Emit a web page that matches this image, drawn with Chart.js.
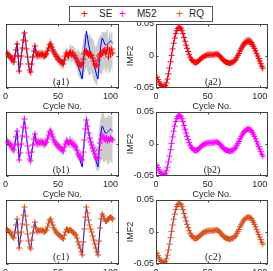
<!DOCTYPE html>
<html lang="en">
<head>
<meta charset="utf-8">
<title>IMF prediction</title>
<script src="https://cdn.jsdelivr.net/npm/chart.js@4.4.1/dist/chart.umd.min.js"></script>
<style>
  html, body { margin: 0; padding: 0; background: #fff; }
  body { position: relative; width: 273px; height: 271px; overflow: hidden; font-family: "Liberation Sans", Arial, sans-serif; color: #262626; }
  .painel { position: absolute; }
  .rotulo { position: absolute; font-family: "Liberation Serif", "Times New Roman", serif; font-size: 10px; line-height: 10px; transform: translateX(-50%); white-space: nowrap; z-index: 4; }
  #legenda { position: absolute; left: 69px; top: 6px; width: 142px; height: 14px; border: 1px solid #555; background: #fff; font-size: 10px; z-index: 5; }
  #legenda span { position: absolute; top: 0; line-height: 14px; }
  #legenda .mk { font-size: 12px; }
</style>
</head>
<body>
<div id="legenda">
  <span class="mk" style="left:11px;color:#ff0000">+</span><span style="left:29px">SE</span>
  <span class="mk" style="left:49px;color:#ff00ff">+</span><span style="left:67px">M52</span>
  <span class="mk" style="left:106px;color:#d95319">+</span><span style="left:119px">RQ</span>
</div>

<canvas id="gA1" class="painel" width="124" height="96" style="left:0;top:16px"></canvas>
<canvas id="gA2" class="painel" width="149" height="96" style="left:124px;top:16px"></canvas>
<canvas id="gB1" class="painel" width="124" height="96" style="left:0;top:104px"></canvas>
<canvas id="gB2" class="painel" width="149" height="96" style="left:124px;top:104px"></canvas>
<canvas id="gC1" class="painel" width="124" height="96" style="left:0;top:192px"></canvas>
<canvas id="gC2" class="painel" width="149" height="96" style="left:124px;top:192px"></canvas>

<div class="rotulo" style="left:61px;top:77px">(a1)</div>
<div class="rotulo" style="left:213px;top:77px">(a2)</div>
<div class="rotulo" style="left:61px;top:165px">(b1)</div>
<div class="rotulo" style="left:212px;top:165px">(b2)</div>
<div class="rotulo" style="left:61px;top:252px">(c1)</div>
<div class="rotulo" style="left:213px;top:252px">(c2)</div>

<script>
// eixos
const cycleTicks = [0, 50, 100];
const imf1Ticks = [-0.032, 0, 0.032];
const imf2Ticks = [-0.05, 0, 0.05];

// IMF1 (coluna esquerda), ciclos 1..102
const imf1Real = [
  0.003, 0.002, 0.001, 0.000, -0.001, -0.003, -0.005, -0.006, 0.000, 0.007,
  0.013, -0.001, -0.016, -0.009, 0.000, 0.008, 0.017, 0.025, 0.016, 0.007,
  -0.002, -0.009, -0.015, -0.017, -0.008, -0.001, 0.005, 0.010, 0.004, 0.000,
  0.002, 0.001, 0.002, 0.001, 0.002, 0.001, 0.000, 0.001, 0.002, 0.005,
  0.009, 0.012, 0.013, 0.010, 0.007, 0.004, 0.002, 0.000, -0.001, -0.002,
  -0.003, -0.004, -0.005, -0.006, -0.007, -0.003, 0.000, 0.003, 0.002, 0.001,
  0.002, 0.002, 0.001, 0.000, -0.001, -0.002, -0.003, -0.006, -0.010, -0.013,
  -0.016, -0.020, -0.023, -0.010, 0.003, 0.015, 0.025, 0.019, 0.012, 0.007,
  0.003, 0.000, -0.004, -0.008, -0.012, -0.016, -0.020, -0.023, -0.009, 0.004,
  0.013, 0.018, 0.016, 0.013, 0.011, 0.011, 0.012, 0.013, 0.014, 0.015,
  0.014, 0.013
];
const imf1SE = [
  0.003, 0.002, 0.001, 0.000, -0.002, -0.003, -0.004, -0.006, 0.000, 0.006,
  0.012, 0.000, -0.015, -0.008, 0.000, 0.008, 0.016, 0.023, 0.015, 0.007,
  -0.001, -0.008, -0.014, -0.016, -0.008, -0.001, 0.005, 0.010, 0.004, 0.000,
  0.002, 0.001, 0.002, 0.001, 0.002, 0.001, 0.000, 0.001, 0.002, 0.005,
  0.008, 0.011, 0.012, 0.009, 0.006, 0.004, 0.002, 0.000, -0.001, -0.003,
  -0.004, -0.005, -0.006, -0.007, -0.008, -0.004, 0.000, 0.003, 0.001, 0.000,
  0.003, 0.004, 0.001, 0.003, 0.001, 0.000, -0.002, -0.004, -0.006, -0.008,
  -0.010, -0.009, -0.007, -0.003, 0.002, 0.004, 0.005, 0.003, 0.001, 0.002,
  0.000, 0.001, -0.002, -0.005, -0.008, -0.010, -0.009, -0.004, 0.000, 0.002,
  0.001, 0.003, 0.005, 0.006, 0.003, 0.004, 0.008, -0.001, 0.006, 0.002,
  0.007, 0.003
];
const imf1SEMeia = [
  0.005, 0.005, 0.005, 0.005, 0.005, 0.005, 0.005, 0.005, 0.005, 0.005,
  0.005, 0.005, 0.005, 0.005, 0.005, 0.005, 0.005, 0.005, 0.005, 0.005,
  0.005, 0.005, 0.005, 0.005, 0.005, 0.005, 0.005, 0.005, 0.005, 0.005,
  0.005, 0.005, 0.005, 0.005, 0.005, 0.005, 0.005, 0.005, 0.005, 0.005,
  0.006, 0.006, 0.006, 0.006, 0.006, 0.006, 0.006, 0.006, 0.006, 0.006,
  0.006, 0.006, 0.006, 0.006, 0.006, 0.006, 0.006, 0.006, 0.006, 0.006,
  0.008, 0.008, 0.008, 0.008, 0.008, 0.008, 0.008, 0.008, 0.013, 0.013,
  0.013, 0.013, 0.017, 0.019, 0.020, 0.018, 0.016, 0.018, 0.020, 0.021,
  0.019, 0.017, 0.019, 0.020, 0.018, 0.019, 0.021, 0.020, 0.018, 0.019,
  0.020, 0.021, 0.019, 0.018, 0.020, 0.021, 0.019, 0.018, 0.020, 0.019,
  0.018, 0.019
];
const imf1M52 = [
  0.003, 0.002, 0.001, 0.000, -0.001, -0.003, -0.005, -0.006, 0.000, 0.007,
  0.013, -0.001, -0.016, -0.009, 0.000, 0.008, 0.017, 0.025, 0.016, 0.007,
  -0.002, -0.009, -0.015, -0.017, -0.008, -0.001, 0.005, 0.010, 0.004, 0.000,
  0.002, 0.001, 0.002, 0.001, 0.002, 0.001, 0.000, 0.001, 0.002, 0.005,
  0.009, 0.012, 0.013, 0.010, 0.007, 0.004, 0.002, 0.000, -0.001, -0.002,
  -0.003, -0.004, -0.005, -0.006, -0.007, -0.003, 0.000, 0.003, 0.002, 0.001,
  0.002, 0.002, 0.001, 0.000, -0.001, -0.002, -0.003, -0.006, -0.010, -0.012,
  -0.013, -0.015, -0.016, -0.008, 0.004, 0.015, 0.024, 0.018, 0.011, 0.006,
  0.002, -0.001, -0.004, -0.007, -0.010, -0.013, -0.015, -0.014, -0.006, 0.001,
  0.005, 0.009, 0.007, 0.005, 0.004, 0.006, 0.003, 0.005, 0.004, 0.006,
  0.005, 0.004
];
const imf1M52Meia = [
  0.005, 0.005, 0.005, 0.005, 0.005, 0.005, 0.005, 0.005, 0.005, 0.005,
  0.005, 0.005, 0.005, 0.005, 0.005, 0.005, 0.005, 0.005, 0.005, 0.005,
  0.005, 0.005, 0.005, 0.005, 0.005, 0.005, 0.005, 0.005, 0.005, 0.005,
  0.005, 0.005, 0.005, 0.005, 0.005, 0.005, 0.005, 0.005, 0.005, 0.005,
  0.005, 0.005, 0.005, 0.005, 0.005, 0.005, 0.005, 0.005, 0.005, 0.005,
  0.005, 0.005, 0.005, 0.005, 0.005, 0.005, 0.005, 0.005, 0.005, 0.005,
  0.006, 0.006, 0.006, 0.006, 0.006, 0.006, 0.006, 0.006, 0.006, 0.006,
  0.006, 0.006, 0.008, 0.008, 0.008, 0.008, 0.008, 0.008, 0.008, 0.008,
  0.008, 0.008, 0.008, 0.008, 0.008, 0.012, 0.012, 0.012, 0.022, 0.022,
  0.022, 0.024, 0.025, 0.023, 0.021, 0.022, 0.024, 0.025, 0.023, 0.022,
  0.024, 0.025
];
const imf1RQ = [
  0.003, 0.002, 0.001, 0.000, -0.001, -0.003, -0.005, -0.006, 0.000, 0.007,
  0.013, -0.001, -0.016, -0.009, 0.000, 0.008, 0.017, 0.025, 0.016, 0.007,
  -0.002, -0.009, -0.015, -0.017, -0.008, -0.001, 0.005, 0.010, 0.004, 0.000,
  0.002, 0.001, 0.002, 0.001, 0.002, 0.001, 0.000, 0.001, 0.002, 0.005,
  0.009, 0.012, 0.013, 0.010, 0.007, 0.004, 0.002, 0.000, -0.001, -0.002,
  -0.003, -0.004, -0.005, -0.006, -0.007, -0.003, 0.000, 0.003, 0.002, 0.001,
  0.002, 0.002, 0.001, 0.000, -0.001, -0.002, -0.003, -0.006, -0.010, -0.013,
  -0.016, -0.020, -0.023, -0.010, 0.003, 0.015, 0.025, 0.019, 0.012, 0.007,
  0.003, 0.000, -0.004, -0.008, -0.012, -0.016, -0.020, -0.023, -0.009, 0.004,
  0.013, 0.018, 0.016, 0.013, 0.011, 0.011, 0.012, 0.013, 0.014, 0.015,
  0.014, 0.013
];
const imf1RQMeia = [
  0.0015, 0.0015, 0.0015, 0.0015, 0.0015, 0.0015, 0.0015, 0.0015, 0.0015, 0.0015,
  0.0015, 0.0015, 0.0015, 0.0015, 0.0015, 0.0015, 0.0015, 0.0015, 0.0015, 0.0015,
  0.0015, 0.0015, 0.0015, 0.0015, 0.0015, 0.0015, 0.0015, 0.0015, 0.0015, 0.0015,
  0.0015, 0.0015, 0.0015, 0.0015, 0.0015, 0.0015, 0.0015, 0.0015, 0.0015, 0.0015,
  0.0015, 0.0015, 0.0015, 0.0015, 0.0015, 0.0015, 0.0015, 0.0015, 0.0015, 0.0015,
  0.0015, 0.0015, 0.0015, 0.0015, 0.0015, 0.0015, 0.0015, 0.0015, 0.0015, 0.0015,
  0.0015, 0.0015, 0.0015, 0.0015, 0.0015, 0.0015, 0.0015, 0.0015, 0.0015, 0.0015,
  0.0015, 0.0015, 0.0015, 0.0015, 0.0015, 0.0015, 0.0015, 0.0015, 0.0015, 0.0015,
  0.0015, 0.0015, 0.0015, 0.0015, 0.0015, 0.0015, 0.0015, 0.0015, 0.0015, 0.0015,
  0.0015, 0.0015, 0.0015, 0.0015, 0.0015, 0.0015, 0.0015, 0.0015, 0.0015, 0.0015,
  0.0015, 0.020
];

// IMF2 (coluna direita), ciclos 1..103
const imf2Real = [
  -0.033, -0.037, -0.041, -0.044, -0.046, -0.047, -0.048, -0.048, -0.046, -0.042,
  -0.036, -0.028, -0.019, -0.009, 0.001, 0.011, 0.020, 0.028, 0.035, 0.040,
  0.043, 0.045, 0.045, 0.043, 0.040, 0.035, 0.029, 0.023, 0.017, 0.012,
  0.007, 0.002, -0.002, -0.005, -0.007, -0.009, -0.010, -0.010, -0.010, -0.009,
  -0.008, -0.006, -0.005, -0.003, -0.002, -0.001, 0.000, 0.001, 0.001, 0.002,
  0.002, 0.002, 0.002, 0.002, 0.002, 0.002, 0.003, 0.003, 0.003, 0.002,
  0.001, -0.001, -0.003, -0.005, -0.007, -0.008, -0.009, -0.010, -0.010, -0.011,
  -0.011, -0.011, -0.010, -0.010, -0.009, -0.007, -0.005, -0.002, 0.001, 0.004,
  0.008, 0.011, 0.014, 0.017, 0.019, 0.021, 0.022, 0.023, 0.023, 0.023,
  0.022, 0.021, 0.018, 0.015, 0.012, 0.008, 0.004, 0.000, -0.004, -0.008,
  -0.012, -0.016, -0.019
];
const imf2Pred = [
  -0.033, -0.037, -0.041, -0.044, -0.046, -0.047, -0.048, -0.048, -0.046, -0.042,
  -0.036, -0.028, -0.019, -0.009, 0.001, 0.011, 0.020, 0.028, 0.035, 0.040,
  0.043, 0.045, 0.045, 0.043, 0.040, 0.035, 0.029, 0.023, 0.017, 0.012,
  0.007, 0.002, -0.002, -0.005, -0.007, -0.009, -0.010, -0.010, -0.010, -0.009,
  -0.008, -0.006, -0.005, -0.003, -0.002, -0.001, 0.000, 0.001, 0.001, 0.002,
  0.002, 0.002, 0.002, 0.002, 0.002, 0.002, 0.003, 0.003, 0.003, 0.002,
  0.001, -0.001, -0.003, -0.005, -0.007, -0.008, -0.009, -0.010, -0.010, -0.011,
  -0.011, -0.011, -0.010, -0.010, -0.009, -0.007, -0.005, -0.002, 0.001, 0.004,
  0.008, 0.011, 0.014, 0.017, 0.019, 0.021, 0.022, 0.023, 0.023, 0.023,
  0.022, 0.021, 0.018, 0.015, 0.012, 0.008, 0.004, 0.000, -0.004, -0.008,
  -0.012, -0.016, -0.019
];
const imf2SEMeia = [
  0.002, 0.002, 0.002, 0.002, 0.002, 0.002, 0.002, 0.002, 0.002, 0.002,
  0.002, 0.002, 0.002, 0.002, 0.002, 0.002, 0.002, 0.002, 0.002, 0.002,
  0.002, 0.002, 0.002, 0.002, 0.002, 0.002, 0.002, 0.002, 0.002, 0.002,
  0.002, 0.002, 0.002, 0.002, 0.002, 0.002, 0.002, 0.002, 0.002, 0.002,
  0.002, 0.002, 0.002, 0.002, 0.002, 0.002, 0.002, 0.002, 0.002, 0.002,
  0.002, 0.002, 0.002, 0.002, 0.002, 0.002, 0.002, 0.002, 0.002, 0.002,
  0.002, 0.002, 0.002, 0.002, 0.002, 0.002, 0.002, 0.002, 0.002, 0.002,
  0.003, 0.003, 0.003, 0.003, 0.003, 0.005, 0.005, 0.005, 0.005, 0.005,
  0.008, 0.008, 0.008, 0.008, 0.008, 0.008, 0.008, 0.008, 0.008, 0.008,
  0.008, 0.008, 0.008, 0.008, 0.008, 0.008, 0.008, 0.008, 0.008, 0.008,
  0.008, 0.008, 0.008
];
const imf2M52Meia = [
  0.002, 0.002, 0.002, 0.002, 0.002, 0.002, 0.002, 0.002, 0.002, 0.002,
  0.002, 0.002, 0.002, 0.002, 0.002, 0.002, 0.002, 0.002, 0.002, 0.002,
  0.002, 0.002, 0.002, 0.002, 0.002, 0.002, 0.002, 0.002, 0.002, 0.002,
  0.002, 0.002, 0.002, 0.002, 0.002, 0.002, 0.002, 0.002, 0.002, 0.002,
  0.002, 0.002, 0.002, 0.002, 0.002, 0.002, 0.002, 0.002, 0.002, 0.002,
  0.002, 0.002, 0.002, 0.002, 0.002, 0.002, 0.002, 0.002, 0.002, 0.002,
  0.002, 0.002, 0.002, 0.002, 0.002, 0.002, 0.002, 0.002, 0.002, 0.002,
  0.002, 0.002, 0.002, 0.002, 0.002, 0.002, 0.002, 0.002, 0.002, 0.002,
  0.004, 0.004, 0.004, 0.004, 0.004, 0.004, 0.004, 0.004, 0.004, 0.004,
  0.004, 0.004, 0.004, 0.004, 0.004, 0.004, 0.004, 0.004, 0.004, 0.004,
  0.004, 0.004, 0.004
];
const imf2RQMeia = [
  0.001, 0.001, 0.001, 0.001, 0.001, 0.001, 0.001, 0.001, 0.001, 0.001,
  0.001, 0.001, 0.001, 0.001, 0.001, 0.001, 0.001, 0.001, 0.001, 0.001,
  0.001, 0.001, 0.001, 0.001, 0.001, 0.001, 0.001, 0.001, 0.001, 0.001,
  0.001, 0.001, 0.001, 0.001, 0.001, 0.001, 0.001, 0.001, 0.001, 0.001,
  0.001, 0.001, 0.001, 0.001, 0.001, 0.001, 0.001, 0.001, 0.001, 0.001,
  0.001, 0.001, 0.001, 0.001, 0.001, 0.001, 0.001, 0.001, 0.001, 0.001,
  0.001, 0.001, 0.001, 0.001, 0.001, 0.001, 0.001, 0.001, 0.001, 0.001,
  0.001, 0.001, 0.001, 0.001, 0.001, 0.001, 0.001, 0.001, 0.001, 0.001,
  0.001, 0.001, 0.001, 0.001, 0.001, 0.001, 0.001, 0.001, 0.001, 0.001,
  0.001, 0.001, 0.001, 0.001, 0.001, 0.001, 0.001, 0.001, 0.001, 0.001,
  0.001, 0.001, 0.001
];

const COR_SE = '#ff0000';
const COR_M52 = '#ff00ff';
const COR_RQ = '#d95319';
const AZUL = '#0000ff';
const CINZA = '#cccccc';
const COR_EIXO = '#404040';
const COR_TEXTO = '#262626';
const FONTE = { family: '"Liberation Sans", Arial, sans-serif', size: 9 };

const chartInstances = [];

function criarGrafico(ctx, config) {
    const grafico = new Chart(ctx, config);
    chartInstances.push(grafico);
    return grafico;
}

// caixa fechada com ticks para dentro, estilo matlab
const moldura = {
    id: 'moldura',
    afterDatasetsDraw(chart) {
        const { ctx, chartArea: area, scales } = chart;
        const esq = Math.round(area.left) + 0.5;
        const dir = Math.round(area.right) - 0.5;
        const topo = Math.round(area.top) + 0.5;
        const base = Math.round(area.bottom) - 0.5;
        ctx.save();
        ctx.strokeStyle = COR_EIXO;
        ctx.lineWidth = 1;
        ctx.strokeRect(esq, topo, dir - esq, base - topo);
        ctx.beginPath();
        for (const t of scales.x.ticks) {
            const px = Math.round(scales.x.getPixelForValue(t.value)) + 0.5;
            ctx.moveTo(px, base);
            ctx.lineTo(px, base - 2);
            ctx.moveTo(px, topo);
            ctx.lineTo(px, topo + 2);
        }
        for (const t of scales.y.ticks) {
            const py = Math.round(scales.y.getPixelForValue(t.value)) + 0.5;
            ctx.moveTo(esq, py);
            ctx.lineTo(esq + 2, py);
            ctx.moveTo(dir, py);
            ctx.lineTo(dir - 2, py);
        }
        ctx.stroke();
        ctx.restore();
    }
};

function pontos(serie) {
    return serie.map((v, i) => ({ x: i + 1, y: v }));
}

function montarPainel(canvasId, painel) {
    const direita = painel.lado === 'dir';
    const limites = direita ? imf2Ticks : imf1Ticks;
    const inferior = painel.pred.map((v, i) => ({ x: i + 1, y: v - painel.meia[i] }));
    const superior = painel.pred.map((v, i) => ({ x: i + 1, y: v + painel.meia[i] }));

    return criarGrafico(document.getElementById(canvasId), {
        type: 'line',
        data: {
            datasets: [
                { data: inferior, borderColor: 'transparent', pointRadius: 0, fill: false, order: 3 },
                { data: superior, borderColor: 'transparent', pointRadius: 0, fill: '-1', backgroundColor: CINZA, order: 3 },
                { data: pontos(painel.real), borderColor: AZUL, borderWidth: 1, pointRadius: 0, fill: false, order: 2 },
                {
                    data: pontos(painel.pred),
                    showLine: false,
                    pointStyle: 'cross',
                    pointRadius: 3,
                    pointBorderWidth: 1,
                    borderColor: painel.cor,
                    order: 1
                }
            ]
        },
        options: {
            responsive: false,
            animation: false,
            events: [],
            layout: { padding: { top: 8, right: direita ? 3 : 5, left: 0, bottom: 0 } },
            plugins: { legend: { display: false }, tooltip: { enabled: false } },
            scales: {
                x: {
                    type: 'linear',
                    min: 0,
                    max: 108,
                    grid: { display: false, drawTicks: false },
                    border: { display: false },
                    afterBuildTicks: (s) => { s.ticks = cycleTicks.map((v) => ({ value: v })); },
                    ticks: { font: FONTE, color: COR_TEXTO, padding: 3, maxRotation: 0 },
                    title: { display: true, text: 'Cycle No.', font: FONTE, color: COR_TEXTO, padding: 0 },
                    afterFit: (s) => { s.height = 24; }
                },
                y: {
                    type: 'linear',
                    min: limites[0],
                    max: limites[2],
                    grid: { display: false, drawTicks: false },
                    border: { display: false },
                    afterBuildTicks: (s) => { s.ticks = limites.map((v) => ({ value: v })); },
                    ticks: {
                        display: direita,
                        font: FONTE,
                        color: COR_TEXTO,
                        padding: 2,
                        callback: (v) => String(Number(v.toFixed(3)))
                    },
                    title: { display: direita, text: 'IMF2', font: FONTE, color: COR_TEXTO, padding: { top: 1, bottom: 0 } },
                    afterFit: (s) => { s.width = direita ? 32 : 3; }
                }
            }
        },
        plugins: [moldura]
    });
}

montarPainel('gA1', { lado: 'esq', real: imf1Real, pred: imf1SE, meia: imf1SEMeia, cor: COR_SE });
montarPainel('gA2', { lado: 'dir', real: imf2Real, pred: imf2Pred, meia: imf2SEMeia, cor: COR_SE });
montarPainel('gB1', { lado: 'esq', real: imf1Real, pred: imf1M52, meia: imf1M52Meia, cor: COR_M52 });
montarPainel('gB2', { lado: 'dir', real: imf2Real, pred: imf2Pred, meia: imf2M52Meia, cor: COR_M52 });
montarPainel('gC1', { lado: 'esq', real: imf1Real, pred: imf1RQ, meia: imf1RQMeia, cor: COR_RQ });
montarPainel('gC2', { lado: 'dir', real: imf2Real, pred: imf2Pred, meia: imf2RQMeia, cor: COR_RQ });
</script>
</body>
</html>
